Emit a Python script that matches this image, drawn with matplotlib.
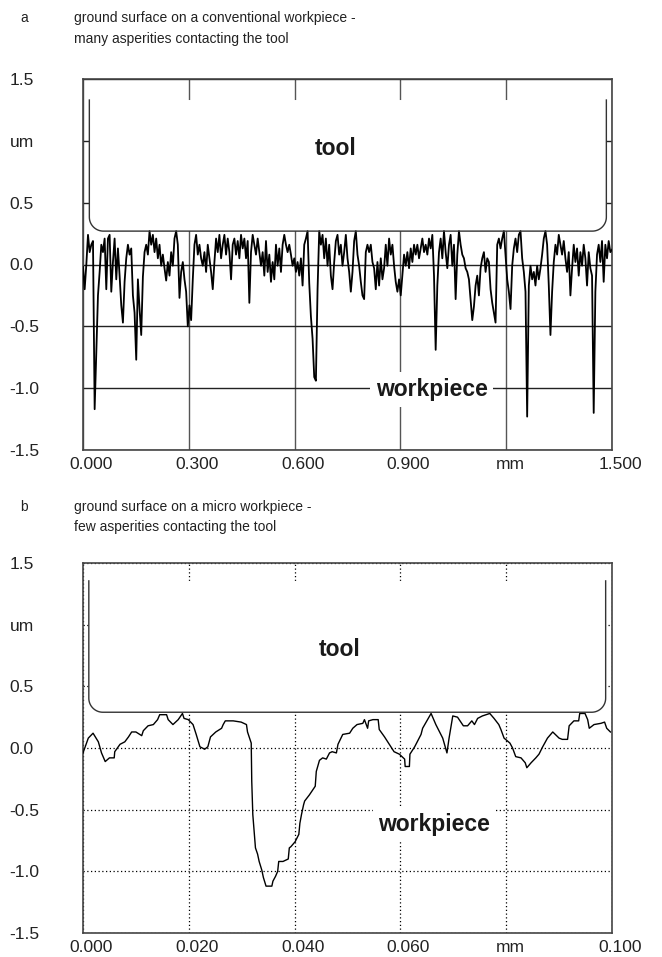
import numpy as np
import matplotlib
matplotlib.use("Agg")
import matplotlib.pyplot as plt
from matplotlib import font_manager
from matplotlib.patches import PathPatch
from matplotlib.path import Path
from matplotlib.transforms import ScaledTranslation

plt.rcParams['font.family'] = ['Liberation Sans', 'DejaVu Sans']

# ---------------------------------------------------------------------------
# Panel a: ground surface on a conventional workpiece (profile sampled evenly
# over the traced length, heights in um)
length_a_mm = 1.5
profile_a_um = [
    # first segment
    -0.02, -0.20, 0.00, 0.24, 0.10, 0.16, 0.19, -1.17, -0.70, -0.25,
    -0.06, 0.16, 0.10, 0.21, -0.20, 0.21, 0.24, -0.22, 0.02, 0.21,
    -0.12, 0.13, -0.09, -0.33, -0.47, -0.14, 0.05, 0.16, 0.08, 0.13,
    -0.25, -0.39, -0.77, -0.12, -0.36, -0.57, -0.10, 0.10, 0.16, 0.08,
    0.27, 0.16, 0.24, 0.10, 0.21, 0.05, 0.16, -0.01, 0.08, -0.03,
    -0.13, 0.02, -0.09, 0.10, -0.01, 0.21, 0.27, 0.16, -0.27, -0.06,
    0.02, -0.12, -0.22, -0.50, -0.33, -0.45, -0.12, 0.16, 0.24, 0.08,
    0.16, 0.05, -0.01, 0.10, -0.06, 0.16, 0.05, -0.06, -0.20, 0.02,
    0.21, 0.10, 0.24, 0.05, 0.16, 0.24, 0.08, 0.21, 0.10, -0.12,
    0.16, 0.21, 0.08, 0.19, 0.05, 0.24, 0.13, 0.21, 0.05, 0.19,
    -0.31, 0.10, 0.24, 0.16, 0.08, 0.21, 0.10,
    # middle segment
    -0.01, 0.10, -0.09, 0.19, -0.06, 0.08, -0.14, 0.02, -0.12, 0.16,
    -0.01, 0.13, -0.06, 0.16, 0.24, 0.16, 0.10, 0.16, 0.08, -0.01,
    0.05, -0.06, 0.02, -0.09, 0.05, -0.17, 0.16, 0.21, 0.27, -0.15,
    -0.42, -0.60, -0.91, -0.94, -0.20, 0.27, 0.16, 0.24, 0.05, 0.21,
    -0.01, 0.16, -0.09, -0.20, 0.02, 0.19, 0.24, 0.08, 0.16, -0.01,
    0.10, 0.24, 0.05, -0.06, -0.22, -0.06, 0.19, 0.27, 0.08, -0.01,
    -0.14, -0.25, -0.28, 0.10, 0.16, 0.10, 0.16, 0.02, -0.03, -0.20,
    0.02, -0.17, 0.05, -0.12, -0.03, 0.16, -0.01, 0.21, 0.08, 0.16,
    -0.01, -0.14, -0.22, -0.12, -0.25, -0.09, 0.08, -0.01, 0.10, -0.03,
    0.13, 0.02, 0.16, 0.08, 0.16, 0.05, 0.13, 0.21, 0.10, 0.16,
    0.08, 0.21, 0.13, 0.24,
    # last segment
    -0.09, -0.69, -0.17, 0.10, 0.21, 0.05, 0.27, 0.10, -0.03, 0.16,
    0.24, -0.01, 0.16, -0.28, 0.08, 0.27, 0.16, 0.08, 0.05, -0.03,
    -0.06, -0.12, -0.28, -0.45, -0.34, -0.17, -0.09, -0.25, -0.03, 0.05,
    0.10, -0.06, 0.05, 0.02, -0.20, -0.31, -0.39, -0.47, 0.16, 0.21,
    0.13, 0.21, 0.27, 0.08, -0.12, -0.22, -0.36, -0.01, 0.13, 0.21,
    0.10, 0.24, 0.27, 0.05, -0.06, -0.22, -1.23, -0.17, -0.01, -0.12,
    -0.06, -0.17, -0.01, -0.12, -0.03, 0.08, 0.21, 0.27, 0.16, -0.17,
    -0.57, -0.22, 0.02, 0.16, 0.08, 0.24, 0.16, 0.08, 0.19, 0.05,
    -0.06, 0.10, -0.25, -0.03, 0.16, 0.02, 0.13, -0.09, 0.10, -0.01,
    0.16, 0.05, -0.17, 0.10, -0.03, -0.09, -1.20, -0.22, 0.08, 0.16,
    0.02, 0.19, -0.14, 0.16, 0.05, 0.19, 0.10, 0.12,
]

# Panel b: ground surface on a micro workpiece
profile_b_x_mm = [
    0.0000, 0.0010, 0.0019, 0.0029, 0.0035, 0.0042, 0.0050, 0.0059, 0.0060, 0.0070,
    0.0079, 0.0086, 0.0092, 0.0100, 0.0111, 0.0114, 0.0123, 0.0133, 0.0141, 0.0145,
    0.0158, 0.0161, 0.0170, 0.0180, 0.0188, 0.0191, 0.0199, 0.0208, 0.0214, 0.0221,
    0.0230, 0.0236, 0.0241, 0.0251, 0.0262, 0.0265, 0.0269, 0.0284, 0.0299, 0.0309,
    0.0311, 0.0318, 0.0319, 0.0321, 0.0326, 0.0330, 0.0333, 0.0338, 0.0341, 0.0346,
    0.0357, 0.0359, 0.0364, 0.0368, 0.0370, 0.0378, 0.0388, 0.0390, 0.0393, 0.0401,
    0.0408, 0.0410, 0.0413, 0.0417, 0.0419, 0.0428, 0.0439, 0.0441, 0.0447, 0.0453,
    0.0460, 0.0466, 0.0471, 0.0479, 0.0482, 0.0491, 0.0504, 0.0510, 0.0518, 0.0529,
    0.0532, 0.0538, 0.0540, 0.0548, 0.0558, 0.0560, 0.0570, 0.0579, 0.0588, 0.0598,
    0.0608, 0.0609, 0.0617, 0.0618, 0.0627, 0.0639, 0.0642, 0.0650, 0.0658, 0.0667,
    0.0680, 0.0688, 0.0692, 0.0699, 0.0708, 0.0719, 0.0727, 0.0735, 0.0740, 0.0746,
    0.0755, 0.0769, 0.0777, 0.0786, 0.0790, 0.0796, 0.0807, 0.0812, 0.0818, 0.0828,
    0.0836, 0.0839, 0.0847, 0.0856, 0.0862, 0.0869, 0.0878, 0.0888, 0.0900, 0.0906,
    0.0916, 0.0919, 0.0928, 0.0937, 0.0939, 0.0949, 0.0954, 0.0957, 0.0966, 0.0979,
    0.0986, 0.0990, 0.0997,
]
profile_b_um = [
    -0.04, 0.08, 0.12, 0.05, -0.04, -0.11, -0.08, -0.08, -0.03, 0.03,
    0.05, 0.09, 0.13, 0.13, 0.10, 0.14, 0.18, 0.19, 0.23, 0.27,
    0.27, 0.23, 0.19, 0.23, 0.28, 0.24, 0.23, 0.19, 0.11, 0.01,
    -0.01, 0.01, 0.09, 0.13, 0.16, 0.19, 0.22, 0.22, 0.21, 0.19,
    0.13, 0.04, -0.27, -0.54, -0.81, -0.86, -0.92, -0.99, -1.05, -1.12,
    -1.12, -1.08, -1.04, -1.00, -0.92, -0.92, -0.90, -0.81, -0.80, -0.76,
    -0.70, -0.61, -0.54, -0.46, -0.43, -0.38, -0.31, -0.19, -0.10, -0.08,
    -0.09, -0.04, -0.03, -0.04, 0.03, 0.11, 0.12, 0.16, 0.19, 0.20,
    0.23, 0.16, 0.22, 0.23, 0.23, 0.15, 0.09, 0.03, -0.03, -0.05,
    -0.09, -0.15, -0.15, -0.05, 0.01, 0.11, 0.16, 0.22, 0.28, 0.19,
    0.08, -0.04, 0.08, 0.26, 0.25, 0.18, 0.18, 0.22, 0.19, 0.24,
    0.26, 0.28, 0.24, 0.19, 0.15, 0.08, 0.04, 0.00, -0.07, -0.08,
    -0.12, -0.16, -0.12, -0.08, -0.05, 0.01, 0.08, 0.13, 0.08, 0.07,
    0.07, 0.18, 0.22, 0.22, 0.28, 0.28, 0.23, 0.16, 0.19, 0.20,
    0.21, 0.16, 0.13,
]

# Axis ticks and labels
yticks = [-1.5, -1.0, -0.5, 0.0, 0.5, 1.0, 1.5]
ylabels = ["-1.5", "-1.0", "-0.5", "0.0", "0.5", "um", "1.5"]
xticks_a = [0.0, 0.3, 0.6, 0.9, 1.2, 1.5]
xlabels_a = ["0.000", "0.300", "0.600", "0.900", "mm", "1.500"]
xticks_b = [0.0, 0.02, 0.04, 0.06, 0.08, 0.10]
xlabels_b = ["0.000", "0.020", "0.040", "0.060", "mm", "0.100"]

# Tool flank geometry (mm, um)
tool_a = dict(left=0.018, right=1.484, bottom=0.27, top=1.33)
tool_b = dict(left=0.0011, right=0.0988, bottom=0.29, top=1.355)

W, H = 662, 957
fig = plt.figure(figsize=(W / 100, H / 100), dpi=100)


def px_axes(left, top, right, bottom):
    return fig.add_axes([left / W, 1 - bottom / H, (right - left) / W, (bottom - top) / H])


ax_a = px_axes(83, 79, 612, 450)
ax_b = px_axes(83, 563, 612, 933)

FS_TICK = 12.5


def style_axes(ax, xmax, xticks, xlabels, grid_x, grid_y):
    ax.set_xlim(0, xmax)
    ax.set_ylim(-1.5, 1.5)
    ax.set_yticks(yticks, ylabels)
    ax.set_xticks(xticks, xlabels)
    ax.tick_params(axis='y', length=0, pad=53, labelsize=FS_TICK, labelcolor='#222222')
    ax.tick_params(axis='x', length=0, pad=5, labelsize=FS_TICK, labelcolor='#222222')
    for lab in ax.get_yticklabels():
        lab.set_horizontalalignment('left')
    for lab, txt in zip(ax.get_xticklabels(), xlabels):
        dx = 4 if txt == "mm" else 8
        lab.set_transform(lab.get_transform() + ScaledTranslation(dx / 100, 0, fig.dpi_scale_trans))
    for s in ax.spines.values():
        s.set_color('#444444')
        s.set_linewidth(1.2)
    ax.set_axisbelow(True)
    ax.grid(True, axis='x', **grid_x)
    ax.grid(True, axis='y', **grid_y)


def draw_tool(ax, left, right, bottom, top, r_px=14):
    bb = ax.get_window_extent()
    x0, x1 = ax.get_xlim()
    y0, y1 = ax.get_ylim()
    rx = r_px / bb.width * (x1 - x0)
    ry = r_px / bb.height * (y1 - y0)
    t1 = np.linspace(np.pi, 1.5 * np.pi, 20)
    t2 = np.linspace(1.5 * np.pi, 2 * np.pi, 20)
    xs = np.concatenate([[left], left + rx + rx * np.cos(t1),
                         right - rx + rx * np.cos(t2), [right]])
    ys = np.concatenate([[top], bottom + ry + ry * np.sin(t1),
                         bottom + ry + ry * np.sin(t2), [top]])
    verts = np.column_stack([xs, ys])
    path = Path(np.vstack([verts, verts[:1]]),
                [Path.MOVETO] + [Path.LINETO] * (len(verts) - 1) + [Path.CLOSEPOLY])
    ax.add_patch(PathPatch(path, facecolor='white', edgecolor='none', zorder=2))
    ax.plot(xs, ys, color='#333333', lw=1.0, zorder=4, solid_joinstyle='round')


label_box = dict(boxstyle='square,pad=0.25', facecolor='white', edgecolor='none')
FS_LABEL = 16.5

# --- panel a
style_axes(ax_a, length_a_mm, xticks_a, xlabels_a,
           dict(color='#555555', linestyle='-', linewidth=1.0),
           dict(color='#222222', linestyle='-', linewidth=1.0))
x_a = np.linspace(0, length_a_mm, len(profile_a_um))
ax_a.plot(x_a, profile_a_um, color='black', lw=1.3, zorder=3)
draw_tool(ax_a, **tool_a)
ax_a.text(0.716, 0.935, "tool", ha='center', va='center', fontsize=FS_LABEL,
          fontweight='bold', color='#1a1a1a', zorder=5)
ax_a.text(0.989, -1.01, "workpiece", ha='center', va='center', fontsize=FS_LABEL,
          fontweight='bold', color='#1a1a1a', zorder=5, bbox=label_box)

# --- panel b
dotted = dict(color='black', linestyle=(0, (1, 2)), linewidth=0.9)
style_axes(ax_b, 0.1, xticks_b, xlabels_b, dotted, dotted)
ax_b.plot(profile_b_x_mm, profile_b_um, color='black', lw=1.0, zorder=3)
draw_tool(ax_b, **tool_b)
ax_b.text(0.0485, 0.80, "tool", ha='center', va='center', fontsize=FS_LABEL,
          fontweight='bold', color='#1a1a1a', zorder=5)
ax_b.text(0.0664, -0.62, "workpiece", ha='center', va='center', fontsize=FS_LABEL,
          fontweight='bold', color='#1a1a1a', zorder=5, bbox=label_box)

# --- panel captions (narrow sans where one is installed)
installed = {f.name for f in font_manager.fontManager.ttflist}
narrow = [n for n in ("Liberation Sans Narrow", "DejaVu Sans Condensed") if n in installed]
cap_family = narrow[:1] + ['Liberation Sans', 'DejaVu Sans']
FS_CAP = 11.5 if narrow else 10.0


def caption(letter, line1, line2, y1, y2):
    kw = dict(ha='left', va='center', fontsize=FS_CAP, color='#222222', family=cap_family)
    fig.text(20 / W, 1 - y1 / H, letter, **kw)
    fig.text(74 / W, 1 - y1 / H, line1, **kw)
    fig.text(74 / W, 1 - y2 / H, line2, **kw)


caption("a", "ground surface on a conventional workpiece -",
        "many asperities contacting the tool", 18, 39)
caption("b", "ground surface on a micro workpiece -",
        "few asperities contacting the tool", 507, 527)

fig.savefig("out.png", dpi=100, facecolor='white')
